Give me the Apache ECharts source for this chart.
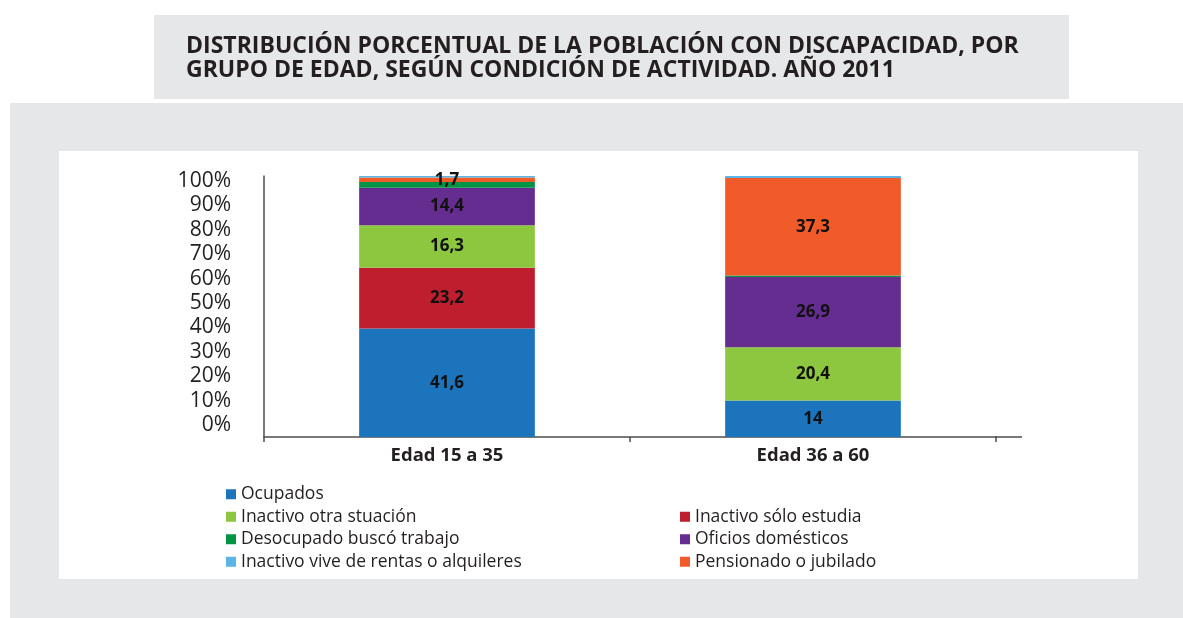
<!DOCTYPE html>
<html>
<head>
<meta charset="utf-8">
<script src="https://cdn.jsdelivr.net/npm/echarts@6/dist/echarts.min.js"></script>
<style>
  html, body { margin: 0; padding: 0; background: #fff; }
  #chart { width: 1183px; height: 618px; }
</style>
</head>
<body>
<div id="chart"></div>
<script>
// categorías y valores (%)
const categories = ['Edad 15 a 35', 'Edad 36 a 60']
const ocupados = [41.6, 14]
const soloEstudia = [23.2, 0]
const otraSituacion = [16.3, 20.4]
const oficiosDomesticos = [14.4, 26.9]
const desocupado = [2.2, 0.6]
const pensionado = [1.7, 37.3]
const rentas = [0.6, 0.8]
const yTicks = [0, 10, 20, 30, 40, 50, 60, 70, 80, 90, 100]

const titleText = 'DISTRIBUCIÓN PORCENTUAL DE LA POBLACIÓN CON DISCAPACIDAD, POR\nGRUPO DE EDAD, SEGÚN CONDICIÓN DE ACTIVIDAD. AÑO 2011'

// series en orden de apilado (de abajo hacia arriba)
const seriesDefs = [
  { name: 'Ocupados', data: ocupados, color: '#1c75bc', label: true },
  { name: 'Inactivo sólo estudia', data: soloEstudia, color: '#be1e2d', label: true },
  { name: 'Inactivo otra stuación', data: otraSituacion, color: '#8dc63f', label: true },
  { name: 'Oficios domésticos', data: oficiosDomesticos, color: '#662d91', label: true },
  { name: 'Desocupado buscó trabajo', data: desocupado, color: '#009444', label: false },
  { name: 'Pensionado o jubilado', data: pensionado, color: '#f15a29', label: true },
  { name: 'Inactivo vive de rentas o alquileres', data: rentas, color: '#5ab4e6', label: false }
]

const legendLeft = ['Ocupados', 'Inactivo otra stuación', 'Desocupado buscó trabajo', 'Inactivo vive de rentas o alquileres']
const legendRight = ['Inactivo sólo estudia', 'Oficios domésticos', 'Pensionado o jubilado']

const font = "'Open Sans', 'Noto Sans', sans-serif"
const textColor = '#231f20'
const axisColor = '#4d4d4f'
const panelGray = '#e6e7e8'

const chart = echarts.init(document.getElementById('chart'))

const legendCommon = {
  orient: 'vertical',
  itemWidth: 10,
  itemHeight: 10,
  itemGap: 2,
  icon: 'rect',
  selectedMode: false,
  textStyle: { fontFamily: font, fontSize: 17.5, color: textColor, lineHeight: 20.5 }
}

const option = {
  animation: false,
  backgroundColor: '#fff',
  graphic: [
    { type: 'rect', z: -10, shape: { x: 154, y: 15, width: 915, height: 84 }, style: { fill: panelGray } },
    { type: 'rect', z: -10, shape: { x: 10, y: 103, width: 1173, height: 515 }, style: { fill: panelGray } },
    { type: 'rect', z: -9, shape: { x: 59, y: 151, width: 1079, height: 428 }, style: { fill: '#fff' } },
    // prolongación de la línea del eje X
    { type: 'line', z: 5, shape: { x1: 995, y1: 437, x2: 1022, y2: 437 }, style: { stroke: axisColor, lineWidth: 1.5 } }
  ],
  title: {
    text: titleText,
    left: 181,
    top: 29,
    textStyle: { fontFamily: font, fontSize: 23, fontWeight: 'bold', color: textColor, lineHeight: 24.5 }
  },
  legend: [
    Object.assign({}, legendCommon, { left: 221, top: 479, data: legendLeft }),
    Object.assign({}, legendCommon, { left: 675, top: 501.5, data: legendRight })
  ],
  grid: [
    { left: 264, right: 187, top: 176, bottom: 181 },
    // grilla auxiliar sólo para las etiquetas del eje Y
    { left: 264, right: 187, top: 181, bottom: 193 }
  ],
  xAxis: [
    {
      type: 'category',
      gridIndex: 0,
      data: categories,
      axisLine: { lineStyle: { color: axisColor, width: 1.5 } },
      axisTick: { show: true, length: 5, lineStyle: { color: axisColor, width: 1.5 } },
      axisLabel: { margin: 9, fontFamily: font, fontSize: 18.5, fontWeight: 'bold', color: textColor }
    },
    { type: 'value', gridIndex: 1, show: false }
  ],
  yAxis: [
    {
      type: 'value',
      gridIndex: 0,
      min: 0,
      max: 100,
      axisLine: { show: true, lineStyle: { color: axisColor, width: 1.5 } },
      axisTick: { show: false },
      axisLabel: { show: false },
      splitLine: { show: false }
    },
    {
      type: 'value',
      gridIndex: 1,
      min: yTicks[0],
      max: yTicks[yTicks.length - 1],
      interval: 10,
      axisLine: { show: false },
      axisTick: { show: false },
      splitLine: { show: false },
      axisLabel: { margin: 33, fontFamily: font, fontSize: 21, color: textColor, formatter: '{value}%' }
    }
  ],
  series: seriesDefs.map(s => ({
    name: s.name,
    type: 'bar',
    stack: 'total',
    barWidth: '48%',
    xAxisIndex: 0,
    yAxisIndex: 0,
    itemStyle: { color: s.color },
    label: {
      show: s.label,
      position: 'inside',
      fontFamily: font,
      fontSize: 17,
      fontWeight: 'bold',
      color: '#111',
      formatter: p => (p.value >= 1.5 ? String(p.value).replace('.', ',') : '')
    },
    data: s.data
  }))
}

chart.setOption(option)
</script>
</body>
</html>
